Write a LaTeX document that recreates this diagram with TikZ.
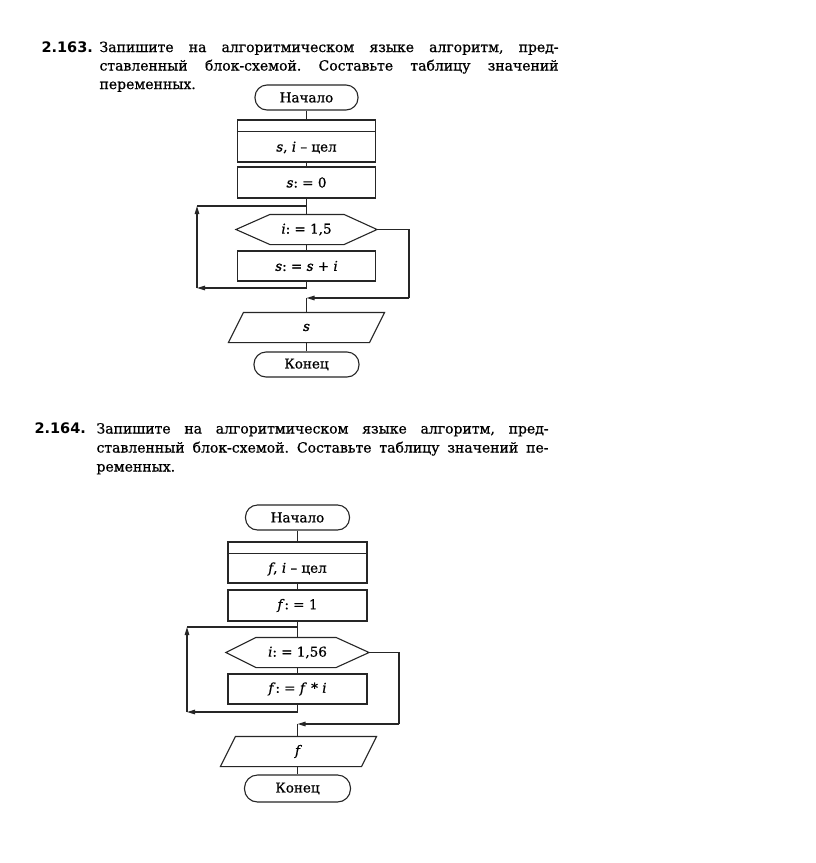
\documentclass[tikz,border=0pt]{standalone}
\usepackage{fontspec}
\setmainfont{DejaVu Serif}[FakeBold=0.7]
\newfontfamily\numfont{DejaVu Sans}
\usetikzlibrary{arrows.meta,calc}
\frenchspacing
\begin{document}
\begin{tikzpicture}[x=1pt,y=-1pt,
  line width=1.1pt, draw=black!85,
  nfont/.style={font=\fontsize{13.5}{15}\selectfont},
  base/.style={draw, inner sep=0pt, nfont},
  term/.style={base, rounded corners=12pt, minimum height=25pt},
  procbox/.style={base, minimum width=138pt, minimum height=31pt},
  ghost/.style={inner sep=0pt, nfont},
  arr/.style={-{Triangle[length=8pt,width=4.5pt]}},
  para/.style={font=\fontsize{14}{18.5}\selectfont, anchor=base west, inner sep=0pt},
  numlbl/.style={font=\numfont\bfseries\fontsize{14.5}{15}\selectfont, anchor=base west, inner sep=0pt}
]
\useasboundingbox (0,0) rectangle (816,863);
\fill[white] (0,0) rectangle (816,863);

% ---------- 2.163 ----------
\node[numlbl] (n1) at (41,52) {2.163.};
\node[para] (t1a) at (99,52) {\makebox[459pt][s]{Запишите на алгоритмическом языке алгоритм, пред-}};
\node[para] (t1b) at (99,70.5) {\makebox[459pt][s]{ставленный блок-схемой. Составьте таблицу значений}};
\node[para] (t1c) at (99,89) {переменных.};

\node[term, minimum width=103pt] (start1) at (306.5,97.5) {Начало};
\node[procbox, minimum height=42pt] (decl1) at (306.5,141) {};
\draw ($(decl1.north west)+(0,12)$) -- ($(decl1.north east)+(0,12)$);
\node[ghost] (decl1t) at (306.5,147.5) {\textit{s}, \textit{i} – цел};
\node[procbox] (init1) at (306.5,182.5) {\textit{s}: = 0};
\node[ghost, minimum width=140pt, minimum height=29pt] (hex1) at (306.5,229.5) {\textit{i}: = 1,5};
\draw (hex1.west) -- ($(hex1.north west)+(34,0)$) -- ($(hex1.north east)+(-33,0)$) -- (hex1.east)
  -- ($(hex1.south east)+(-33,0)$) -- ($(hex1.south west)+(34,0)$) -- cycle;
\node[procbox, minimum height=30pt] (body1) at (306.5,266) {\textit{s}: = \textit{s} + \textit{i}};
\node[ghost, minimum width=155pt, minimum height=29pt] (out1) at (306.5,327.5) {\textit{s}};
\draw (out1.south west) -- ($(out1.north west)+(15,0)$) -- (out1.north east)
  -- ($(out1.south east)+(-15,0)$) -- cycle;
\node[term, minimum width=105pt] (end1) at (306.5,364.5) {Конец};

\draw (start1) -- (decl1);
\draw (decl1) -- (init1);
\draw (init1) -- (hex1);
\draw (hex1) -- (body1);
\coordinate (l1b) at (197,288);
\coordinate (l1c) at (197,206);
\coordinate (l1d) at (306.5,206);
\draw[arr] (body1.south) |- (l1b);
\draw[arr] (l1b) -- (l1c);
\draw (l1c) -- (l1d);
\coordinate (e1a) at (409,229.5);
\coordinate (e1b) at (409,298);
\coordinate (j1) at (306.5,298);
\draw (hex1.east) -- (e1a) -- (e1b);
\draw[arr] (e1b) -- (j1);
\draw (j1) -- (out1);
\draw (out1) -- (end1);

% ---------- 2.164 ----------
\node[numlbl] (n2) at (34,433.5) {2.164.};
\node[para] (t2a) at (96,433.5) {\makebox[452pt][s]{Запишите на алгоритмическом языке алгоритм, пред-}};
\node[para] (t2b) at (96,452.5) {\makebox[452pt][s]{ставленный блок-схемой. Составьте таблицу значений пе-}};
\node[para] (t2c) at (96,471.5) {ременных.};

\node[term, minimum width=104pt] (start2) at (297.5,517.5) {Начало};
\node[procbox, minimum height=41pt, minimum width=139pt] (decl2) at (297.5,562.5) {};
\draw ($(decl2.north west)+(0,12)$) -- ($(decl2.north east)+(0,12)$);
\node[ghost] (decl2t) at (297.5,569) {\textit{f}, \textit{i} – цел};
\node[procbox, minimum width=139pt] (init2) at (297.5,605.5) {\textit{f}: = 1};
\node[ghost, minimum width=142pt, minimum height=29pt] (hex2) at (297.5,652.5) {\textit{i}: = 1,56};
\draw (hex2.west) -- ($(hex2.north west)+(30,0)$) -- ($(hex2.north east)+(-33,0)$) -- (hex2.east)
  -- ($(hex2.south east)+(-33,0)$) -- ($(hex2.south west)+(30,0)$) -- cycle;
\node[procbox, minimum height=30pt, minimum width=139pt] (body2) at (297.5,689) {\textit{f}: = \textit{f} * \textit{i}};
\node[ghost, minimum width=155pt, minimum height=29pt] (out2) at (298.5,751.5) {\textit{f}};
\draw (out2.south west) -- ($(out2.north west)+(15,0)$) -- (out2.north east)
  -- ($(out2.south east)+(-15,0)$) -- cycle;
\node[term, minimum width=106pt, minimum height=27pt, rounded corners=13pt] (end2) at (297.5,788.5) {Конец};

\draw (start2) -- (decl2);
\draw (decl2) -- (init2);
\draw (init2) -- (hex2);
\draw (hex2) -- (body2);
\coordinate (l2b) at (187,712);
\coordinate (l2c) at (187,627);
\coordinate (l2d) at (297.5,627);
\draw[arr] (body2.south) |- (l2b);
\draw[arr] (l2b) -- (l2c);
\draw (l2c) -- (l2d);
\coordinate (e2a) at (399,652.5);
\coordinate (e2b) at (399,724);
\coordinate (j2) at (297.5,724);
\draw (hex2.east) -- (e2a) -- (e2b);
\draw[arr] (e2b) -- (j2);
\draw (j2) -- (j2 |- out2.north);
\draw (out2.south -| end2.north) -- (end2.north);
\end{tikzpicture}
\end{document}
